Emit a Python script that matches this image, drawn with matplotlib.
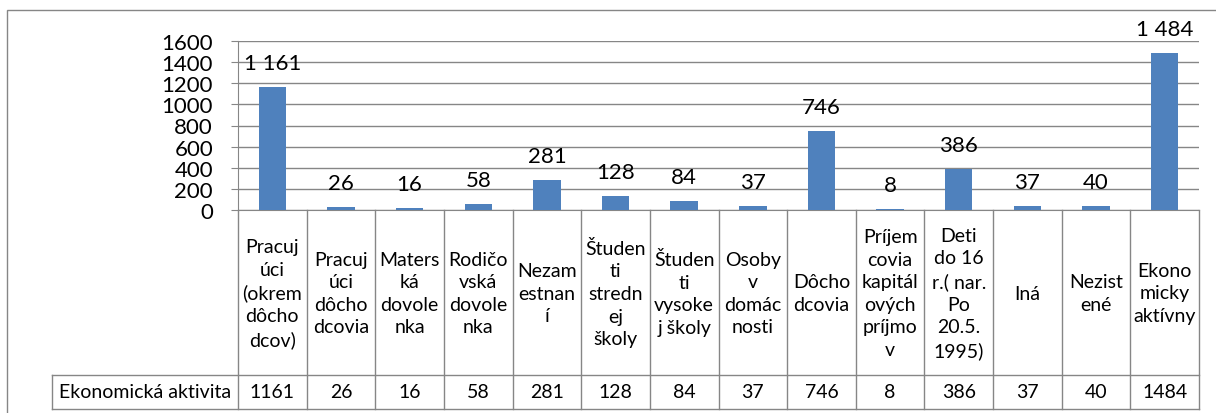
import matplotlib.pyplot as plt
from matplotlib.patches import Rectangle
from matplotlib.transforms import blended_transform_factory

# category names, wrapped the way the data table shows them
categories = [
    "Pracuj\núci\n(okrem\ndôcho\ndcov)",
    "Pracuj\núci\ndôcho\ndcovia",
    "Maters\nká\ndovole\nnka",
    "Rodičo\nvská\ndovole\nnka",
    "Nezam\nestnan\ní",
    "Študen\nti\nstredn\nej\nškoly",
    "Študen\nti\nvysoke\nj školy",
    "Osoby\nv\ndomác\nnosti",
    "Dôcho\ndcovia",
    "Príjem\ncovia\nkapitál\nových\npríjmo\nv",
    "Deti\ndo 16\nr.( nar.\nPo\n20.5.\n1995)",
    "Iná",
    "Nezist\nené",
    "Ekono\nmicky\naktívny",
]
values = [1161, 26, 16, 58, 281, 128, 84, 37, 746, 8, 386, 37, 40, 1484]
series_name = "Ekonomická aktivita"
yticks = [0, 200, 400, 600, 800, 1000, 1200, 1400, 1600]

W, H = 1216, 414
BAR = "#4F81BD"
GRID = "#868686"
plt.rcParams['font.family'] = ['Lato', 'DejaVu Sans']


def fx(px):
    return px / W


def fy(py):
    return 1 - py / H


fig = plt.figure(figsize=(W / 100, H / 100), dpi=100)
ax_l, ax_r, ax_t, ax_b = 238, 1199, 42, 211
ax = fig.add_axes([fx(ax_l), fy(ax_b), (ax_r - ax_l) / W, (ax_b - ax_t) / H])


def ya(py):
    # pixel row below the plot -> axes fraction
    return (ax_b - py) / (ax_b - ax_t)


x = list(range(len(values)))
ax.bar(x, values, width=0.4, color=BAR, zorder=3)
for xi, v in zip(x, values):
    ax.annotate(f"{v:,}".replace(",", " "), (xi, v), xytext=(0, 13),
                textcoords="offset points", ha="center", va="baseline",
                fontsize=16, annotation_clip=False)

ax.set_xlim(-0.5, len(values) - 0.5)
ax.set_ylim(0, 1600)
ax.set_yticks(yticks)
ax.set_xticks([])
ax.tick_params(axis="y", length=5, color=GRID, labelsize=16, pad=13)
ax.yaxis.grid(True, color=GRID, lw=1)
ax.set_axisbelow(True)
for s in ["top", "right"]:
    ax.spines[s].set_visible(False)
for s in ["left", "bottom"]:
    ax.spines[s].set_color(GRID)

# data table under the plot
tr = blended_transform_factory(ax.transData, ax.transAxes)
row_mid, row_end = 376, 410
for k in range(len(values) + 1):
    ax.plot([k - 0.5, k - 0.5], [0, ya(row_end)], color=GRID, lw=1,
            transform=tr, clip_on=False)
for xi, cat, v in zip(x, categories, values):
    ax.text(xi, ya(294), cat, transform=tr, ha="center", va="center",
            multialignment="center", fontsize=14, linespacing=1.4)
    ax.text(xi, ya(393), str(v), transform=tr, ha="center", va="center",
            fontsize=14)

for py in (row_mid, row_end):
    fig.add_artist(plt.Line2D([fx(52), fx(ax_r)], [fy(py), fy(py)],
                              color=GRID, lw=1))
fig.add_artist(plt.Line2D([fx(52), fx(52)], [fy(row_mid), fy(row_end)],
                          color=GRID, lw=1))
fig.text(fx(145), fy(393), series_name, ha="center", va="center", fontsize=14)

# chart border (runs off the right and bottom of the image)
fig.add_artist(Rectangle((fx(7), -0.1), 1.2, fy(11) + 0.1,
                         transform=fig.transFigure, fill=False,
                         ec=GRID, lw=1))

fig.savefig("out.png", dpi=100)
